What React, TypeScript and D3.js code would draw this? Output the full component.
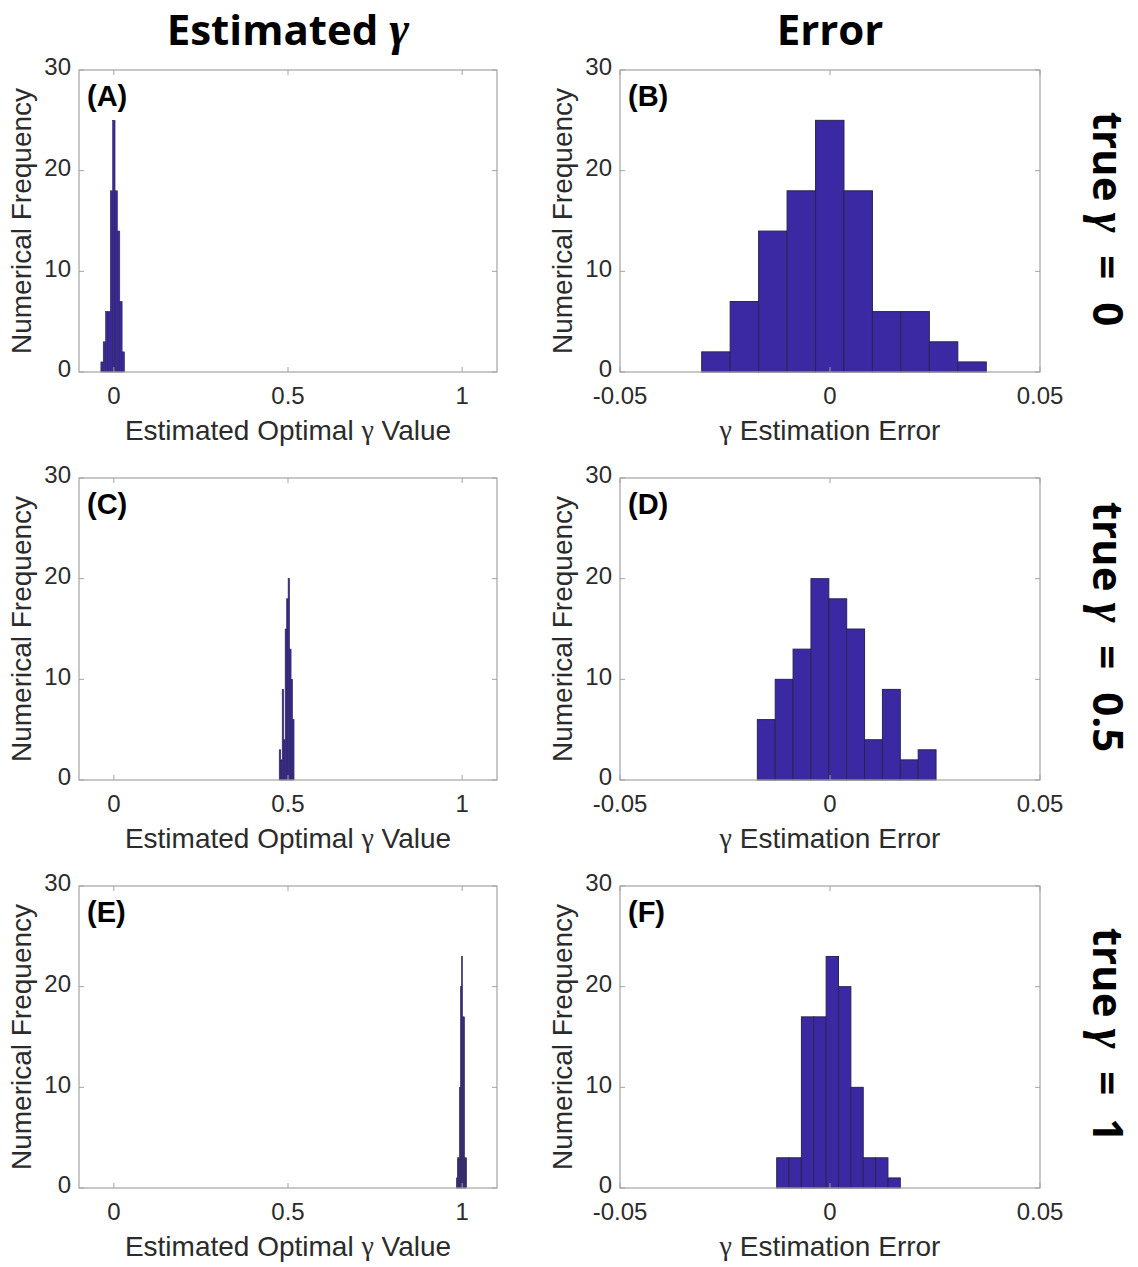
import React from "react";
import * as d3 from "d3";

const width = 1138;
const height = 1267;

// histogram counts (left to right)
const countsA = [1, 3, 6, 6, 18, 25, 18, 14, 7, 2];
const countsB = [2, 7, 14, 18, 25, 18, 6, 6, 3, 1];
const countsC = [3, 2, 9, 4, 15, 18, 20, 13, 10, 6];
const countsD = [6, 10, 13, 20, 18, 15, 4, 9, 2, 3];
const countsE = [1, 3, 3, 10, 20, 23, 17, 17, 3, 3];
const countsF = [3, 3, 17, 17, 23, 20, 10, 3, 3, 1];

// first bin edge and bin width per panel
const binStarts = [-0.0372, -0.03055, 0.4748, -0.0173, 0.98326, -0.01269];
const binWidths = [0.006776, 0.006776, 0.004255, 0.004255, 0.002943, 0.002943];

const panelLabels = ["(A)", "(B)", "(C)", "(D)", "(E)", "(F)"];
const columnTitles = ["Estimated ", "Error"];
const rowTitles = ["0", "0.5", "1"];

const estTicks = [0, 0.5, 1];
const estTickLabels = ["0", "0.5", "1"];
const errTicks = [-0.05, 0, 0.05];
const errTickLabels = ["-0.05", "0", "0.05"];
const yTicks = [0, 10, 20, 30];

const allCounts = [countsA, countsB, countsC, countsD, countsE, countsF];

const colX = [
  { left: 79, right: 497 },
  { left: 620, right: 1040 }
];
const rowY = [
  { top: 70, bottom: 372 },
  { top: 478, bottom: 780 },
  { top: 886, bottom: 1188 }
];

const axisColor = "#a3a3a3";
const textColor = "#2b2b2b";
const barFill = "#3b29a3";
const barEdge = "#2a2452";
const sans = "'Liberation Sans', Arial, sans-serif";
const gammaFont = "'Liberation Serif', 'DejaVu Serif', serif";
const titleFont = "'Open Sans', Lato, sans-serif";

function Panel({ idx }) {
  const col = idx % 2;
  const row = Math.floor(idx / 2);
  const { left, right } = colX[col];
  const { top, bottom } = rowY[row];
  const isEst = col === 0;

  const x = d3
    .scaleLinear()
    .domain(isEst ? [-0.1, 1.1] : [-0.05, 0.05])
    .range([left, right]);
  const y = d3.scaleLinear().domain([0, 30]).range([bottom, top]);

  const ticks = isEst ? estTicks : errTicks;
  const tickLabels = isEst ? estTickLabels : errTickLabels;
  const counts = allCounts[idx];
  const start = binStarts[idx];
  const bw = binWidths[idx];
  const tl = 5;
  const midX = (left + right) / 2;
  const midY = (top + bottom) / 2;

  return (
    <g>
      {counts.map((c, i) => {
        const x0 = x(start + i * bw);
        const x1 = x(start + (i + 1) * bw);
        return (
          <rect
            key={i}
            x={x0}
            y={y(c)}
            width={x1 - x0}
            height={y(0) - y(c)}
            fill={barFill}
            stroke={barEdge}
            strokeWidth={isEst ? 0.6 : 1}
          />
        );
      })}
      <rect x={left} y={top} width={right - left} height={bottom - top} fill="none" stroke={axisColor} strokeWidth={1.2} />
      {ticks.map((t, i) => (
        <g key={"xt" + i}>
          <line x1={x(t)} x2={x(t)} y1={bottom} y2={bottom - tl} stroke={axisColor} />
          <line x1={x(t)} x2={x(t)} y1={top} y2={top + tl} stroke={axisColor} />
          <text x={x(t)} y={bottom + 26} fontSize={24} fill={textColor} textAnchor="middle" dominantBaseline="middle" fontFamily={sans}>
            {tickLabels[i]}
          </text>
        </g>
      ))}
      {yTicks.map((t, i) => (
        <g key={"yt" + i}>
          <line x1={left} x2={left + tl} y1={y(t)} y2={y(t)} stroke={axisColor} />
          <line x1={right} x2={right - tl} y1={y(t)} y2={y(t)} stroke={axisColor} />
          <text x={left - 8} y={y(t) - 1} fontSize={24} fill={textColor} textAnchor="end" dominantBaseline="middle" fontFamily={sans}>
            {t}
          </text>
        </g>
      ))}
      <text x={left + 8} y={top + 28} fontSize={29} fontWeight="bold" fill="#000" dominantBaseline="middle" fontFamily={sans}>
        {panelLabels[idx]}
      </text>
      <text
        transform={`translate(${left - 55},${midY}) rotate(-90)`}
        fontSize={28}
        fill={textColor}
        textAnchor="middle"
        dominantBaseline="middle"
        fontFamily={sans}
      >
        Numerical Frequency
      </text>
      <text x={midX} y={bottom + 61} fontSize={28} fill={textColor} textAnchor="middle" dominantBaseline="middle" fontFamily={sans}>
        {isEst ? (
          <>
            Estimated Optimal <tspan fontFamily={gammaFont}>γ</tspan> Value
          </>
        ) : (
          <>
            <tspan fontFamily={gammaFont}>γ</tspan> Estimation Error
          </>
        )}
      </text>
    </g>
  );
}

export default function App() {
  return (
    <svg width={width} height={height} style={{ position: "absolute", left: 0, top: 0, background: "#fff" }}>
      {d3.range(6).map(i => (
        <Panel key={i} idx={i} />
      ))}
      {columnTitles.map((t, i) => (
        <text
          key={t}
          x={(colX[i].left + colX[i].right) / 2}
          y={45}
          fontSize={42}
          fontWeight="bold"
          textAnchor="middle"
          fontFamily={titleFont}
        >
          {t}
          {i === 0 && (
            <tspan fontFamily={gammaFont} fontStyle="italic" fontSize={48}>
              γ
            </tspan>
          )}
        </text>
      ))}
      {rowTitles.map((t, i) => (
        <text
          key={t}
          transform={`translate(1093,${(rowY[i].top + rowY[i].bottom) / 2 - 2}) rotate(90)`}
          fontSize={42}
          fontWeight="bold"
          textAnchor="middle"
          fontFamily={titleFont}
        >
          true <tspan fontFamily={gammaFont} fontStyle="italic" fontSize={48}>γ</tspan>
          <tspan dx={12}> = </tspan>
          <tspan dx={12}>{t}</tspan>
        </text>
      ))}
    </svg>
  );
}
